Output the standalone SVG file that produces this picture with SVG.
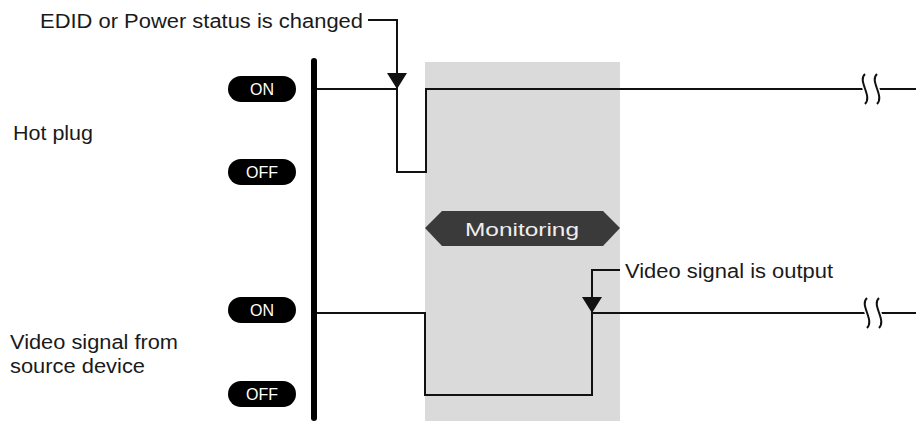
<svg xmlns="http://www.w3.org/2000/svg" width="916" height="421" viewBox="0 0 916 421">
<style>
text{font-family:"Liberation Sans",Arial,sans-serif;fill:#1a1a1a}
.lbl{font-size:20px}
.pill{fill:#000}
.pt{font-size:16px;fill:#fff;text-anchor:middle}
.sig{fill:none;stroke:#111;stroke-width:2}
.brk{fill:none;stroke:#111;stroke-width:2}
.gap{fill:none;stroke:#fff;stroke-width:5}
</style>
<defs>
<marker id="ah" viewBox="0 0 16 20" refX="16" refY="10" markerWidth="16" markerHeight="20" markerUnits="userSpaceOnUse" orient="auto">
<path d="M0,0 L16,10 L0,20 Z" fill="#111"/>
</marker>
</defs>
<rect id="monitoring-zone" x="425" y="62" width="195" height="359" fill="#d9dad9"/>
<rect id="axis" x="311" y="58" width="6" height="363" rx="3" fill="#000"/>
<g id="hotplug-labels">
<text class="lbl" x="13" y="140" textLength="80" lengthAdjust="spacingAndGlyphs">Hot plug</text>
<rect class="pill" x="228" y="76" width="68" height="26" rx="13"/>
<text class="pt" x="262" y="95">ON</text>
<rect class="pill" x="228" y="159" width="68" height="26" rx="13"/>
<text class="pt" x="262" y="178">OFF</text>
</g>
<g id="video-labels">
<text class="lbl" x="10" y="349" textLength="168" lengthAdjust="spacingAndGlyphs">Video signal from</text>
<text class="lbl" x="10" y="373" textLength="135" lengthAdjust="spacingAndGlyphs">source device</text>
<rect class="pill" x="228" y="297" width="68" height="26" rx="13"/>
<text class="pt" x="262" y="316">ON</text>
<rect class="pill" x="228" y="381" width="68" height="26" rx="13"/>
<text class="pt" x="262" y="400">OFF</text>
</g>
<g id="monitoring-label">
<polygon points="425,228 442,211 603,211 620,228 603,246 442,246" fill="#3a3a3a"/>
<text x="522" y="236" font-size="19" style="fill:#eee" text-anchor="middle" textLength="114" lengthAdjust="spacingAndGlyphs">Monitoring</text>
</g>
<g id="connectors">
<path id="hotplug-signal" class="sig" d="M317,89 H397 V172 H426 V89 H916"/>
<path id="video-signal" class="sig" d="M317,313 H425 V395 H592 V313 H916"/>
<g id="break-hot">
<path class="gap" d="M865,74 C857,81 873,96 865,104 M877,74 C869,81 885,96 877,104"/>
<rect x="866" y="84" width="10" height="10" fill="#fff"/>
<path class="brk" d="M865,74 C857,81 873,96 865,104 M877,74 C869,81 885,96 877,104"/>
</g>
<g id="break-video">
<path class="gap" d="M867,298 C859,305 875,320 867,328 M879,298 C871,305 887,320 879,328"/>
<rect x="868" y="308" width="10" height="10" fill="#fff"/>
<path class="brk" d="M867,298 C859,305 875,320 867,328 M879,298 C871,305 887,320 879,328"/>
</g>
<path id="edid-arrow" fill="none" stroke="#111" stroke-width="2" d="M368,20 H397 V89" marker-end="url(#ah)"/>
<path id="video-arrow" fill="none" stroke="#111" stroke-width="2" d="M620,270 H592 V313" marker-end="url(#ah)"/>
</g>
<g id="annotations">
<text class="lbl" x="40" y="28" textLength="323" lengthAdjust="spacingAndGlyphs">EDID or Power status is changed</text>
<text class="lbl" x="625" y="278" textLength="208" lengthAdjust="spacingAndGlyphs">Video signal is output</text>
</g>
</svg>
